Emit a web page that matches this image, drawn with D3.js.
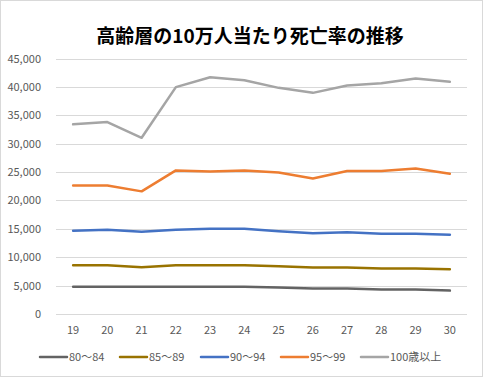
<!DOCTYPE html>
<html>
<head>
<meta charset="utf-8">
<script src="https://cdn.jsdelivr.net/npm/d3@7"></script>
<style>
  body { margin: 0; background: #fff; }
  text { font-family: "Noto Sans CJK JP", "Noto Sans", sans-serif; }
</style>
</head>
<body>
<div id="chart"></div>
<script>
// Years (Heisei) along the x axis
const years = ["19", "20", "21", "22", "23", "24", "25", "26", "27", "28", "29", "30"];

// Series names and colours
const seriesNames = ["80〜84", "85〜89", "90〜94", "95〜99", "100歳以上"];
const seriesColors = ["#636363", "#997300", "#4472C4", "#ED7D31", "#A5A5A5"];

// Deaths per 100,000 people
const age80 = [4820, 4820, 4820, 4820, 4820, 4800, 4650, 4470, 4470, 4300, 4300, 4120];
const age85 = [8590, 8590, 8240, 8590, 8590, 8590, 8420, 8180, 8180, 8000, 8000, 7890];
const age90 = [14680, 14820, 14470, 14820, 15000, 15000, 14580, 14230, 14400, 14120, 14120, 13950];
const age95 = [22650, 22650, 21600, 25290, 25110, 25290, 24940, 23880, 25170, 25170, 25640, 24690];
const age100 = [33400, 33800, 31030, 39950, 41700, 41180, 39830, 38950, 40250, 40650, 41480, 40890];

const yTicks = [0, 5000, 10000, 15000, 20000, 25000, 30000, 35000, 40000, 45000];

const allSeries = [age80, age85, age90, age95, age100];

const width = 483, height = 377;

const svg = d3.select("#chart")
    .append("svg")
    .attr("width", width)
    .attr("height", height);

// Outer border
svg.append("rect")
    .attr("x", 0.5).attr("y", 0.5)
    .attr("width", width - 1).attr("height", height - 1)
    .attr("fill", "#fff")
    .attr("stroke", "#d9d9d9");

// Title
svg.append("text")
    .attr("x", 250)
    .attr("y", 43)
    .attr("text-anchor", "middle")
    .style("font-size", "19px")
    .style("font-weight", "bold")
    .attr("fill", "#000")
    .text("高齢層の10万人当たり死亡率の推移");

// Scales
const x = d3.scaleBand().domain(years).range([56, 467]);
const y = d3.scaleLinear().domain([0, 45000]).range([314, 58.5]);

// Gridlines
svg.append("g")
    .selectAll("line")
    .data(yTicks)
    .enter()
    .append("line")
    .attr("x1", 56).attr("x2", 467)
    .attr("y1", d => Math.round(y(d)) + 0.5)
    .attr("y2", d => Math.round(y(d)) + 0.5)
    .attr("stroke", "#d9d9d9")
    .attr("stroke-width", 1);

// Y axis labels
const fmt = d3.format(",");
svg.append("g")
    .selectAll("text")
    .data(yTicks)
    .enter()
    .append("text")
    .attr("x", 41)
    .attr("y", d => y(d) + 4)
    .attr("text-anchor", "end")
    .style("font-size", "11px")
    .attr("fill", "#595959")
    .text(d => fmt(d));

// X axis labels
svg.append("g")
    .selectAll("text")
    .data(years)
    .enter()
    .append("text")
    .attr("x", d => x(d) + x.bandwidth() / 2)
    .attr("y", 334)
    .attr("text-anchor", "middle")
    .style("font-size", "11px")
    .attr("fill", "#595959")
    .text(d => d);

// Lines
const line = d3.line()
    .x((d, i) => x(years[i]) + x.bandwidth() / 2)
    .y(d => y(d));

svg.append("g")
    .selectAll("path")
    .data(allSeries)
    .enter()
    .append("path")
    .attr("d", d => line(d))
    .attr("fill", "none")
    .attr("stroke", (d, i) => seriesColors[i])
    .attr("stroke-width", 2.5)
    .attr("stroke-linejoin", "round")
    .attr("stroke-linecap", "round");

// Legend
const legendX = [40, 120, 201, 281, 361];
const legend = svg.append("g")
    .selectAll("g")
    .data(seriesNames)
    .enter()
    .append("g")
    .attr("transform", (d, i) => `translate(${legendX[i]}, 357)`);

legend.append("line")
    .attr("x1", 0).attr("x2", 27)
    .attr("y1", 0).attr("y2", 0)
    .attr("stroke", (d, i) => seriesColors[i])
    .attr("stroke-width", 2.5)
    .attr("stroke-linecap", "round");

legend.append("text")
    .attr("x", 29)
    .attr("y", 4)
    .style("font-size", "11px")
    .attr("fill", "#595959")
    .text(d => d);
</script>
</body>
</html>
